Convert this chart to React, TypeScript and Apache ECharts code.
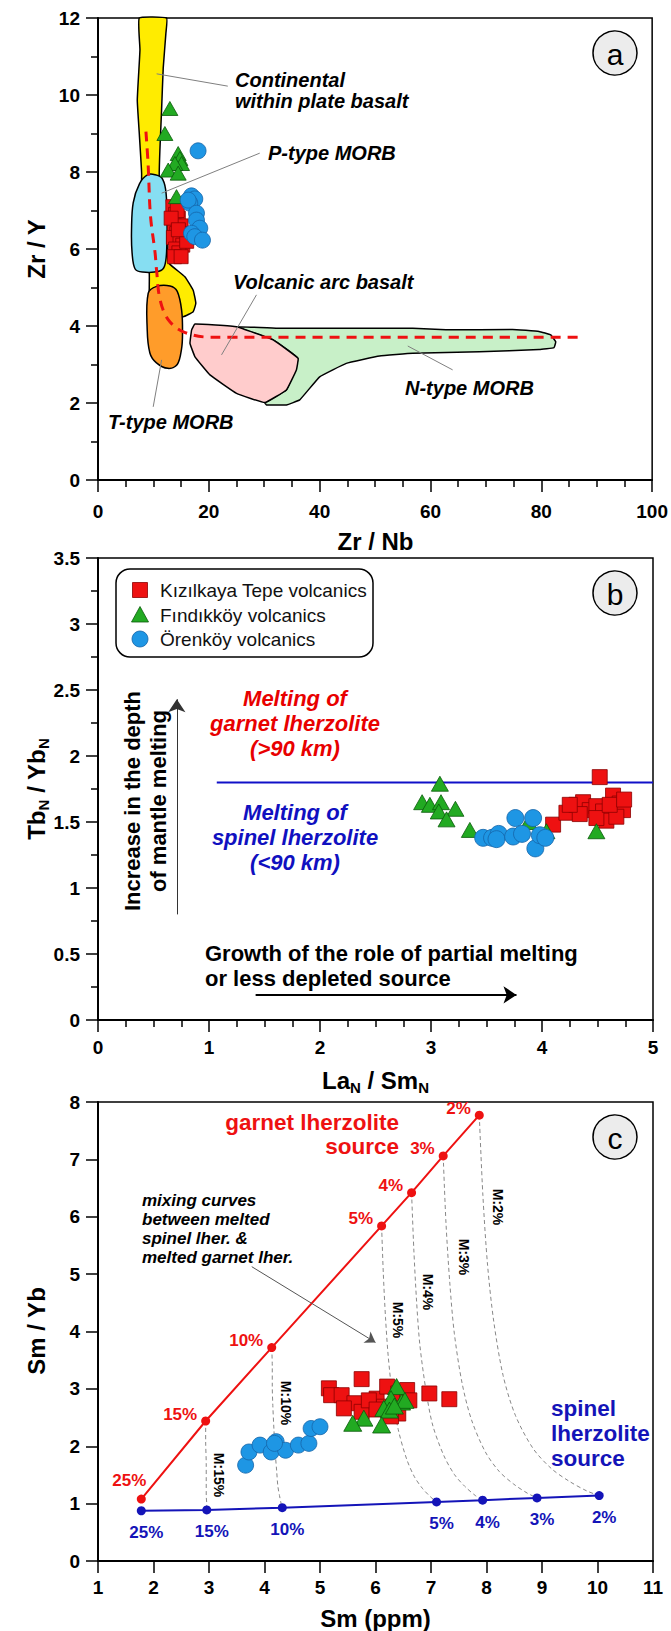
import React, { useEffect, useRef } from "react";
import * as echarts from "echarts";

const FONT = 'Arial, "Liberation Sans", Helvetica, sans-serif';
const RED = "#ee1111";
const GREEN = "#22aa22";
const BLUE_PT = "#1e96e4";
const DARK_BLUE = "#1414b8";
const NAMES = ["Kızılkaya Tepe volcanics", "Fındıkköy volcanics", "Örenköy volcanics"];

// ---------------- Panel (a): Zr/Y vs Zr/Nb ----------------
const FIELD_WPB = [[7.45,12],[12.37,12],[12.25,11.6],[11.77,10.7],[11.47,9.6],[11.17,8.57],[11.05,7.88],[11.6,7.0],[12.4,6.3],[12.5,5.97],[12.8,5.63],[15.67,5.28],[17.17,4.93],[17.65,4.59],[17.17,4.37],[15.37,4.24],[14.0,4.3],[9.3,4.6],[9.25,4.98],[9.25,5.37],[8.5,5.9],[7.8,7.0],[7.87,7.97],[7.45,9.0],[7.09,9.87],[7.57,11.17]];
const FIELD_PMORB = [[10.3,7.93],[11.5,7.85],[12.2,7.55],[12.45,6.9],[12.4,6.0],[12.0,5.55],[11.0,5.42],[8.0,5.4],[6.7,5.48],[6.15,5.9],[6.05,6.5],[6.35,7.2],[7.5,7.7],[9.0,7.93]];
const FIELD_TMORB = [[9.06,4.85],[10.57,5.03],[13.0,5.04],[14.3,4.9],[15.1,4.4],[15.25,3.8],[15.07,3.4],[14.3,3.0],[12.6,2.9],[10.5,3.05],[9.36,3.3],[8.88,3.9]];
const FIELD_NMORB = [[25.0,3.98],[32.8,3.94],[56.8,3.94],[62.8,3.9],[74.8,3.91],[79.6,3.86],[81.7,3.77],[82.6,3.59],[82.3,3.44],[79.6,3.39],[68.8,3.33],[56.8,3.29],[50.8,3.22],[44.8,3.03],[40.0,2.68],[36.4,2.08],[34.0,1.95],[30.4,1.95],[30.1,2.01],[34.0,2.34],[36.1,3.16],[31.6,3.64]];
const FIELD_VAB = [[17.48,4.05],[25.0,3.98],[31.6,3.64],[36.1,3.16],[35.8,2.86],[34.0,2.34],[30.1,2.01],[25.0,2.25],[20.2,2.73],[17.5,3.2],[16.6,3.55],[16.9,3.9]];
const FIELD_NAMES = ["Continental within plate basalt", "P-type MORB", "T-type MORB", "N-type MORB", "Volcanic arc basalt"];
const A_TREND = [[8.65,9.05],[9.05,8.18],[9.47,6.86],[10.3,5.9],[10.57,5.45],[11.2,4.68],[12.7,4.16],[15.4,3.85],[20.2,3.71],[87.7,3.71]];
const A_SQUARES = [[13.5,7.1],[14.0,6.9],[14.5,6.8],[13.8,6.6],[15.0,6.6],[14.2,6.4],[15.5,6.4],[13.6,6.3],[14.8,6.2],[15.3,6.1],[14.0,6.0],[14.6,5.9],[13.8,5.8],[15.0,5.8],[16.0,6.2],[14.3,7.0],[13.2,6.8],[14.5,6.5]];
const A_TRIANGLES = [[12.97,9.65],[12.07,9.0],[14.47,8.48],[14.77,8.35],[15.07,8.22],[13.87,8.22],[12.67,8.05],[14.47,7.97],[14.17,7.36]];
const A_CIRCLES = [[18.06,8.55],[16.87,7.38],[17.47,7.3],[16.57,7.19],[16.27,7.27],[17.77,6.93],[17.77,6.75],[18.37,6.54],[16.87,6.41],[17.47,6.32],[18.85,6.23]];
const A_LEADERS = [
  [[10.58,10.55],[23.42,10.23]],
  [[11.48,7.45],[29.19,8.49]],
  [[22.29,3.25],[28.6,4.81]],
  [[11.48,3.12],[9.96,1.9]],
  [[55.9,3.48],[64.0,2.86]],
];

// ---------------- Panel (b): TbN/YbN vs LaN/SmN ----------------
const B_SQUARES = [[4.52,1.84],[4.10,1.48],[4.22,1.57],[4.31,1.63],[4.37,1.65],[4.43,1.59],[4.49,1.62],[4.55,1.58],[4.64,1.70],[4.70,1.64],[4.73,1.59],[4.58,1.51],[4.67,1.54],[4.34,1.56],[4.25,1.63],[4.49,1.53],[4.61,1.63],[4.74,1.67]];
const B_TRIANGLES = [[3.08,1.79],[2.92,1.65],[2.99,1.63],[3.09,1.65],[3.07,1.58],[3.22,1.60],[3.14,1.52],[3.35,1.44],[3.88,1.50],[4.04,1.43],[4.49,1.43]];
const B_CIRCLES = [[3.47,1.38],[3.55,1.38],[3.61,1.41],[3.59,1.37],[3.74,1.39],[3.76,1.53],[3.82,1.41],[3.92,1.53],[3.94,1.30],[3.98,1.40],[4.03,1.38]];
const B_BOUNDARY = [[1.07,1.8],[5,1.8]];
const B_ARROW_UP = [[0.71,0.8],[0.71,2.43]];
const B_ARROW_RIGHT = [[1.42,0.19],[3.77,0.19]];

// ---------------- Panel (c): Sm/Yb vs Sm ----------------
const G_PCT = ["25%","15%","10%","5%","4%","3%","2%"];
const G_SM = [1.78,2.94,4.13,6.11,6.65,7.22,7.87];
const G_RATIO = [1.08,2.44,3.72,5.84,6.42,7.06,7.77];
const S_PCT = ["25%","15%","10%","5%","4%","3%","2%"];
const S_SM = [1.78,2.96,4.32,7.10,7.93,8.91,10.03];
const S_RATIO = [0.876,0.89,0.93,1.03,1.06,1.10,1.14];
const MIX_LABELS = ["M:2%","M:3%","M:4%","M:5%","M:10%","M:15%"];
const MIX_2 = [[7.87,7.77],[7.935,6.37],[8.02,5.15],[8.13,4.18],[8.30,3.23],[8.52,2.54],[8.84,1.96],[9.17,1.61],[9.49,1.39],[9.81,1.22],[10.03,1.14]];
const MIX_3 = [[7.22,7.06],[7.27,5.89],[7.34,4.83],[7.42,3.97],[7.56,3.10],[7.73,2.46],[7.98,1.90],[8.23,1.56],[8.49,1.34],[8.74,1.18],[8.91,1.10]];
const MIX_4 = [[6.65,6.42],[6.69,5.44],[6.74,4.53],[6.80,3.76],[6.91,2.97],[7.03,2.37],[7.23,1.84],[7.42,1.51],[7.61,1.30],[7.80,1.14],[7.93,1.06]];
const MIX_5 = [[6.11,5.84],[6.14,5.03],[6.18,4.25],[6.23,3.56],[6.31,2.85],[6.41,2.29],[6.56,1.78],[6.70,1.47],[6.85,1.26],[7.00,1.11],[7.10,1.03]];
const MIX_10 = [[4.13,3.72],[4.14,3.40],[4.14,3.05],[4.15,2.71],[4.17,2.29],[4.19,1.93],[4.22,1.56],[4.24,1.31],[4.27,1.14],[4.30,1.00],[4.32,0.93]];
const MIX_15 = [[2.94,2.44],[2.94,2.08],[2.95,1.70],[2.95,1.37],[2.95,1.14],[2.96,0.98],[2.96,0.89]];
const C_SQUARES = [[5.75,3.17],[5.16,3.01],[5.20,2.89],[5.39,2.89],[5.62,2.75],[5.43,2.66],[5.75,2.60],[6.02,2.83],[6.21,3.04],[6.41,2.92],[6.57,2.98],[6.61,2.80],[6.15,2.69],[6.41,2.57],[6.97,2.92],[7.33,2.82],[5.88,2.80],[6.28,2.52],[6.02,2.64]];
const C_TRIANGLES = [[6.38,3.04],[6.28,2.83],[6.15,2.66],[6.47,2.77],[6.53,2.80],[6.25,2.63],[5.79,2.49],[5.59,2.40],[6.11,2.37],[6.34,2.70]];
const C_CIRCLES = [[3.66,1.67],[3.72,1.90],[3.92,2.02],[4.12,1.90],[4.21,2.08],[4.38,1.93],[4.61,2.02],[4.80,2.05],[4.84,2.31],[5.00,2.34],[4.18,2.05]];
const C_ARROW = [[3.77,5.13],[6.0,3.81]];

// ---------------- styling ----------------
const FIELDS = [FIELD_WPB, FIELD_PMORB, FIELD_TMORB, FIELD_NMORB, FIELD_VAB];
const FIELD_COLORS = ["#ffec00", "#86def2", "#ff9c2a", "#c8f0c8", "#ffcccc"];
const FIELD_SMOOTH = [0.12, 0.35, 0.35, 0.08, 0.08];

function axisX(grid: number, min: number, max: number, interval: number, minor: number, margin: number) {
  return {
    type: "value", gridIndex: grid, min, max, interval,
    axisLine: { show: true, onZero: false, lineStyle: { color: "#000", width: 2 } },
    axisTick: { show: true, inside: false, length: 12, lineStyle: { color: "#000", width: 1.5 } },
    minorTick: { show: minor > 1, splitNumber: minor || 1, length: 7, lineStyle: { color: "#000", width: 1.5 } },
    splitLine: { show: false },
    minorSplitLine: { show: false },
    axisLabel: { fontFamily: FONT, fontWeight: "bold", fontSize: 19, color: "#000", margin },
  };
}

function scat(name: string, data: number[][], grid: number, symbol: string, size: any, color: string, border: string) {
  return {
    type: "scatter", name, xAxisIndex: grid, yAxisIndex: grid, data, symbol, symbolSize: size,
    itemStyle: { color, borderColor: border, borderWidth: 0.8, opacity: 1 }, z: 5, silent: true,
  };
}

function T(text: string, x: number, y: number, o: any = {}) {
  return {
    type: "text", x, y, rotation: o.rot || 0, silent: true, z: 100,
    style: {
      text, fill: o.color || "#000",
      fontFamily: FONT, fontSize: o.size || 20, fontWeight: o.weight || "bold",
      fontStyle: o.italic ? "italic" : "normal",
      textAlign: o.align || "left", align: o.align || "left",
      textVerticalAlign: "middle", verticalAlign: "middle",
      rich: o.rich,
    },
  };
}

function badge(letter: string, cx: number, cy: number) {
  return [
    { type: "circle", shape: { cx, cy, r: 22 }, style: { fill: "#ececec", stroke: "#000", lineWidth: 1.5 }, z: 90, silent: true },
    T(letter, cx, cy + 1, { size: 30, weight: "normal", align: "center" }),
  ];
}

const subRich = {
  a: { fontSize: 24, fontWeight: "bold", fontFamily: FONT, lineHeight: 30, fill: "#000", color: "#000" },
  s: { fontSize: 15, fontWeight: "bold", fontFamily: FONT, lineHeight: 15, verticalAlign: "bottom", fill: "#000", color: "#000" },
};

function buildOption() {
  const mixSeries = [MIX_2, MIX_3, MIX_4, MIX_5, MIX_10, MIX_15].map((d, i) => ({
    type: "line", name: MIX_LABELS[i], xAxisIndex: 2, yAxisIndex: 2, data: d, symbol: "none", smooth: 0.3,
    lineStyle: { color: "#888", width: 1, type: [4, 3] }, z: 2, silent: true,
  }));

  const garnet = {
    type: "line", name: "garnet lherzolite source", xAxisIndex: 2, yAxisIndex: 2,
    data: G_SM.map((x, i) => ({
      value: [x, G_RATIO[i]],
      label: {
        show: true, formatter: G_PCT[i],
        position: i === 0 ? "top" : "left", distance: i === 0 ? 6 : 4,
        offset: i === 0 ? [-12, 0] : [0, -7],
        color: RED, fontFamily: FONT, fontWeight: "bold", fontSize: 17,
      },
    })),
    symbol: "circle", symbolSize: 9, itemStyle: { color: RED }, lineStyle: { color: RED, width: 2 }, z: 4, silent: true,
    markLine: {
      silent: true, symbol: ["none", "arrow"], symbolSize: 10, label: { show: false },
      lineStyle: { color: "#555", width: 1, type: "solid" },
      data: [[{ coord: C_ARROW[0] }, { coord: C_ARROW[1] }]],
    },
  };

  const spinel = {
    type: "line", name: "spinel lherzolite source", xAxisIndex: 2, yAxisIndex: 2,
    data: S_SM.map((x, i) => ({
      value: [x, S_RATIO[i]],
      label: {
        show: true, formatter: S_PCT[i], position: "bottom", distance: 9, offset: [5, 0],
        color: DARK_BLUE, fontFamily: FONT, fontWeight: "bold", fontSize: 17,
      },
    })),
    symbol: "circle", symbolSize: 9, itemStyle: { color: DARK_BLUE }, lineStyle: { color: DARK_BLUE, width: 2 }, z: 4, silent: true,
  };

  const graphics: any[] = [
    ...badge("a", 615, 53),
    ...badge("b", 615, 593),
    ...badge("c", 615, 1137),
    // axis titles
    T("Zr / Y", 36, 249, { size: 24, align: "center", rot: Math.PI / 2 }),
    T("Zr / Nb", 375.5, 541, { size: 24, align: "center" }),
    T("{a|Tb}{s|N}{a| / Yb}{s|N}", 36, 789, { size: 24, align: "center", rot: Math.PI / 2, rich: subRich }),
    T("{a|La}{s|N}{a| / Sm}{s|N}", 375.5, 1080, { size: 24, align: "center", rich: subRich }),
    T("Sm / Yb", 36, 1331, { size: 24, align: "center", rot: Math.PI / 2 }),
    T("Sm (ppm)", 375.5, 1618, { size: 24, align: "center" }),
    // panel a labels
    T("Continental", 235, 80, { italic: true }),
    T("within plate basalt", 235, 101, { italic: true }),
    T("P-type MORB", 268, 153, { italic: true }),
    T("Volcanic arc basalt", 233, 282, { italic: true }),
    T("T-type MORB", 108, 422, { italic: true }),
    T("N-type MORB", 405, 388, { italic: true }),
    // panel b legend
    { type: "rect", shape: { x: 116, y: 569, width: 257, height: 88, r: 14 }, style: { fill: "#fff", stroke: "#000", lineWidth: 1.5 }, z: 80, silent: true },
    { type: "rect", shape: { x: 132.5, y: 582.5, width: 15, height: 15 }, style: { fill: RED, stroke: "#8b0000", lineWidth: 0.8 }, z: 81, silent: true },
    { type: "polygon", shape: { points: [[140, 606.5], [148.5, 622], [131.5, 622]] }, style: { fill: GREEN, stroke: "#0a5a0a", lineWidth: 0.8 }, z: 81, silent: true },
    { type: "circle", shape: { cx: 140, cy: 639, r: 8 }, style: { fill: BLUE_PT, stroke: "#1565a8", lineWidth: 0.8 }, z: 81, silent: true },
    T(NAMES[0], 160, 590, { size: 19, weight: "normal", color: "#111" }),
    T(NAMES[1], 160, 615, { size: 19, weight: "normal", color: "#111" }),
    T(NAMES[2], 160, 639, { size: 19, weight: "normal", color: "#111" }),
    // panel b texts
    T("Melting of", 295, 698, { size: 22, italic: true, color: "#e80000", align: "center" }),
    T("garnet lherzolite", 295, 723, { size: 22, italic: true, color: "#e80000", align: "center" }),
    T("(>90 km)", 295, 748, { size: 22, italic: true, color: "#e80000", align: "center" }),
    T("Melting of", 295, 812, { size: 22, italic: true, color: "#1010c0", align: "center" }),
    T("spinel lherzolite", 295, 837, { size: 22, italic: true, color: "#1010c0", align: "center" }),
    T("(<90 km)", 295, 862, { size: 22, italic: true, color: "#1010c0", align: "center" }),
    T("Increase in the depth", 132, 801, { size: 22, align: "center", rot: Math.PI / 2 }),
    T("of mantle melting", 158, 801, { size: 22, align: "center", rot: Math.PI / 2 }),
    T("Growth of the role of partial melting", 205, 953, { size: 22 }),
    T("or less depleted source", 205, 978, { size: 22 }),
    // panel c texts
    T("garnet lherzolite", 399, 1122, { size: 22.5, color: RED, align: "right" }),
    T("source", 399, 1146, { size: 22.5, color: RED, align: "right" }),
    T("spinel", 551, 1408, { size: 22.5, color: DARK_BLUE }),
    T("lherzolite", 551, 1433, { size: 22.5, color: DARK_BLUE }),
    T("source", 551, 1458, { size: 22.5, color: DARK_BLUE }),
    T("mixing curves", 142, 1200, { size: 17, italic: true }),
    T("between melted", 142, 1219, { size: 17, italic: true }),
    T("spinel lher. &", 142, 1238, { size: 17, italic: true }),
    T("melted garnet lher.", 142, 1257, { size: 17, italic: true }),
    T(MIX_LABELS[0], 498, 1207, { size: 14, align: "center", rot: -Math.PI / 2 }),
    T(MIX_LABELS[1], 464, 1257, { size: 14, align: "center", rot: -Math.PI / 2 }),
    T(MIX_LABELS[2], 428, 1292, { size: 14, align: "center", rot: -Math.PI / 2 }),
    T(MIX_LABELS[3], 398, 1320, { size: 14, align: "center", rot: -Math.PI / 2 }),
    T(MIX_LABELS[4], 286, 1403, { size: 14, align: "center", rot: -Math.PI / 2 }),
    T(MIX_LABELS[5], 219, 1475, { size: 14, align: "center", rot: -Math.PI / 2 }),
  ];

  return {
    animation: false,
    backgroundColor: "#fff",
    grid: [
      { left: 98, top: 18, width: 555, height: 462, show: true, borderColor: "#000", borderWidth: 1.5, backgroundColor: "transparent" },
      { left: 98, top: 558, width: 555, height: 462, show: true, borderColor: "#000", borderWidth: 1.5, backgroundColor: "transparent" },
      { left: 98, top: 1102, width: 555, height: 459, show: true, borderColor: "#000", borderWidth: 1.5, backgroundColor: "transparent" },
    ],
    xAxis: [axisX(0, 0, 100, 20, 4, 22), axisX(1, 0, 5, 1, 4, 18), axisX(2, 1, 11, 1, 0, 17)],
    yAxis: [axisX(0, 0, 12, 2, 2, 18), axisX(1, 0, 3.5, 0.5, 2, 18), axisX(2, 0, 8, 1, 0, 18)],
    series: [
      {
        type: "custom", name: "fields", xAxisIndex: 0, yAxisIndex: 0, silent: true, clip: false, z: 1,
        data: FIELD_NAMES.map((n, i) => ({ name: n, value: [i, 0] })),
        renderItem: (params: any, api: any) => {
          const i = params.dataIndex;
          return {
            type: "polygon",
            shape: { points: FIELDS[i].map((p) => api.coord(p)), smooth: FIELD_SMOOTH[i] },
            style: { fill: FIELD_COLORS[i], stroke: "#000", lineWidth: 1.5 },
          };
        },
      },
      {
        type: "line", name: "trend", xAxisIndex: 0, yAxisIndex: 0, data: A_TREND, symbol: "none", smooth: 0.35,
        lineStyle: { color: RED, width: 3, type: [10, 7] }, z: 3, silent: true,
        markLine: {
          silent: true, symbol: ["none", "none"], label: { show: false },
          lineStyle: { color: "#808080", width: 1, type: "solid" },
          data: A_LEADERS.map(([a, b]) => [{ coord: a }, { coord: b }]),
        },
      },
      scat(NAMES[0], A_SQUARES, 0, "rect", 14, RED, "#8b0000"),
      scat(NAMES[1], A_TRIANGLES, 0, "triangle", [16, 14], GREEN, "#0a5a0a"),
      scat(NAMES[2], A_CIRCLES, 0, "circle", 16, BLUE_PT, "#1565a8"),
      {
        type: "line", name: "garnet/spinel boundary", xAxisIndex: 1, yAxisIndex: 1, data: B_BOUNDARY, symbol: "none",
        lineStyle: { color: "#1010c8", width: 2 }, z: 3, silent: true,
        markLine: {
          silent: true, symbol: ["none", "arrow"], symbolSize: 13, label: { show: false },
          data: [
            [{ coord: B_ARROW_UP[0], lineStyle: { color: "#333", width: 1, type: "solid" } }, { coord: B_ARROW_UP[1] }],
            [{ coord: B_ARROW_RIGHT[0], lineStyle: { color: "#000", width: 2, type: "solid" } }, { coord: B_ARROW_RIGHT[1] }],
          ],
        },
      },
      scat(NAMES[0], B_SQUARES, 1, "rect", 15, RED, "#8b0000"),
      scat(NAMES[1], B_TRIANGLES, 1, "triangle", [17, 15], GREEN, "#0a5a0a"),
      scat(NAMES[2], B_CIRCLES, 1, "circle", 17, BLUE_PT, "#1565a8"),
      ...mixSeries,
      garnet,
      spinel,
      scat(NAMES[0], C_SQUARES, 2, "rect", 15, RED, "#8b0000"),
      scat(NAMES[1], C_TRIANGLES, 2, "triangle", [18, 16], GREEN, "#0a5a0a"),
      scat(NAMES[2], C_CIRCLES, 2, "circle", 16, BLUE_PT, "#1565a8"),
    ],
    graphic: graphics,
  };
}

export default function App() {
  const ref = useRef<HTMLDivElement>(null);
  useEffect(() => {
    document.body.style.margin = "0";
    if (!ref.current) return;
    const chart = echarts.init(ref.current, null, { renderer: "svg", width: 671, height: 1631 });
    chart.setOption(buildOption() as any);
    return () => chart.dispose();
  }, []);
  return <div ref={ref} style={{ width: 671, height: 1631 }} />;
}
